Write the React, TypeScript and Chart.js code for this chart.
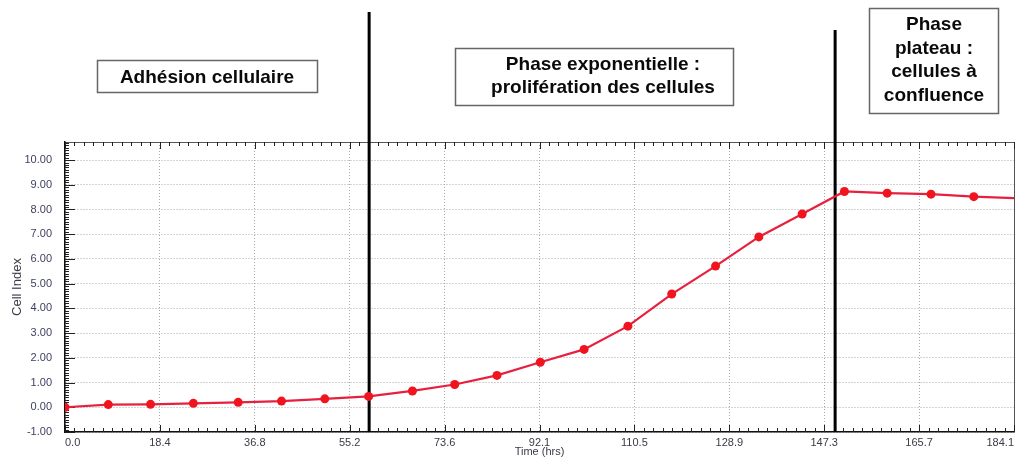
import React, { useEffect, useRef } from "react";
import { Chart, registerables } from "chart.js";

Chart.register(...registerables);

// ---- data ----
const timeHrs = [0, 8.4, 16.6, 24.9, 33.6, 42.0, 50.4, 58.9, 67.4, 75.6, 83.8, 92.2, 100.7, 109.2, 117.7, 126.2, 134.6, 143.0, 151.2, 159.5, 168.0, 176.3, 184.1];
const cellIndex = [0.0, 0.11, 0.12, 0.16, 0.2, 0.25, 0.34, 0.44, 0.66, 0.92, 1.29, 1.82, 2.34, 3.28, 4.58, 5.71, 6.89, 7.82, 8.73, 8.66, 8.62, 8.52, 8.46];
const markerShown = [1, 1, 1, 1, 1, 1, 1, 1, 1, 1, 1, 1, 1, 1, 1, 1, 1, 1, 1, 1, 1, 1, 0];

const xTickValues = [0, 18.41, 36.82, 55.23, 73.64, 92.05, 110.46, 128.87, 147.28, 165.69, 184.1];
const xTickLabels = ["0.0", "18.4", "36.8", "55.2", "73.6", "92.1", "110.5", "128.9", "147.3", "165.7", "184.1"];
const yTickValues = [-1, 0, 1, 2, 3, 4, 5, 6, 7, 8, 9, 10];
const yTickLabels = ["-1.00", "0.00", "1.00", "2.00", "3.00", "4.00", "5.00", "6.00", "7.00", "8.00", "9.00", "10.00"];

const xTitle = "Time (hrs)";
const yTitle = "Cell Index";

const phaseBoundaries = [59.0, 149.4];
const phaseLabels = [
  ["Adhésion cellulaire"],
  ["Phase exponentielle :", "prolifération des cellules"],
  ["Phase", "plateau :", "cellules à", "confluence"],
];

// ---- layout / style (not data) ----
const W = 1029;
const H = 461;
const FONT = "'Liberation Sans', Arial, Helvetica, sans-serif";
const lineTops = [12, 30];
const boxLayout = [
  { left: 97, top: 60, width: 220, height: 32, textX: 207, firstBaseline: 83 },
  { left: 455, top: 48, width: 278, height: 57, textX: 603, firstBaseline: 69.5 },
  { left: 869, top: 8, width: 129, height: 105, textX: 934, firstBaseline: 30 },
];
const boxLineStep = 23.5;

const decorPlugin = {
  id: "decor",
  beforeDatasetsDraw(chart: any) {
    const { ctx, chartArea: a, scales } = chart;
    const xs = scales.x;
    const ys = scales.y;
    ctx.save();
    // top & right frame
    ctx.strokeStyle = "#555";
    ctx.lineWidth = 1;
    ctx.beginPath();
    ctx.moveTo(a.left, Math.round(a.top) + 0.5);
    ctx.lineTo(Math.round(a.right) + 0.5, Math.round(a.top) + 0.5);
    ctx.lineTo(Math.round(a.right) + 0.5, a.bottom);
    ctx.stroke();

    // inner tick marks
    ctx.strokeStyle = "#222";
    ctx.lineWidth = 1;
    ctx.beginPath();
    const xMaj = xTickValues[1] - xTickValues[0];
    for (let i = 0; i <= 100; i++) {
      const h = (i * xMaj) / 10;
      if (h > xs.max + 1e-6) break;
      const px = Math.round(xs.getPixelForValue(h)) + 0.5;
      const len = i % 10 === 0 ? 7 : 4;
      ctx.moveTo(px, a.bottom);
      ctx.lineTo(px, a.bottom - len);
      ctx.moveTo(px, a.top);
      ctx.lineTo(px, a.top + len);
    }
    for (let i = 0; i < 200; i++) {
      const v = yTickValues[0] + i * 0.1;
      if (v > ys.max + 1e-6) break;
      const py = Math.round(ys.getPixelForValue(v)) + 0.5;
      const len = i % 10 === 0 ? 10 : 4;
      ctx.moveTo(a.left, py);
      ctx.lineTo(a.left + len, py);
    }
    ctx.stroke();

    // phase boundaries
    ctx.strokeStyle = "#000";
    ctx.lineWidth = 3;
    phaseBoundaries.forEach((h, i) => {
      const px = xs.getPixelForValue(h);
      ctx.beginPath();
      ctx.moveTo(px, lineTops[i]);
      ctx.lineTo(px, a.bottom);
      ctx.stroke();
    });
    ctx.restore();
  },
  afterDraw(chart: any) {
    const { ctx } = chart;
    ctx.save();
    phaseLabels.forEach((lines, i) => {
      const b = boxLayout[i];
      ctx.fillStyle = "#fff";
      ctx.fillRect(b.left, b.top, b.width, b.height);
      ctx.strokeStyle = "#666";
      ctx.lineWidth = 1.5;
      ctx.strokeRect(b.left + 0.5, b.top + 0.5, b.width, b.height);
      ctx.fillStyle = "#0a0a0a";
      ctx.font = `bold 19px ${FONT}`;
      ctx.textAlign = "center";
      ctx.textBaseline = "alphabetic";
      lines.forEach((t, j) => {
        ctx.fillText(t, b.textX, b.firstBaseline + j * boxLineStep);
      });
    });
    ctx.restore();
  },
};

export default function App() {
  const ref = useRef<HTMLCanvasElement | null>(null);

  useEffect(() => {
    document.body.style.margin = "0";
    const canvas = ref.current;
    if (!canvas) return;
    const chart = new Chart(canvas, {
      type: "line",
      data: {
        datasets: [
          {
            data: timeHrs.map((t, i) => ({ x: t, y: cellIndex[i] })),
            borderColor: "#e8203f",
            borderWidth: 2.2,
            backgroundColor: "#f0141e",
            pointBackgroundColor: "#f0141e",
            pointBorderColor: "#f0141e",
            pointRadius: markerShown.map((m) => (m ? 4.5 : 0)),
            pointBorderWidth: 0,
            tension: 0,
            fill: false,
          },
        ],
      },
      options: {
        animation: false,
        responsive: false,
        devicePixelRatio: 1,
        events: [],
        layout: { padding: { top: 142, right: 15, left: 0, bottom: 0 } },
        plugins: { legend: { display: false }, tooltip: { enabled: false } },
        scales: {
          x: {
            type: "linear",
            min: xTickValues[0],
            max: xTickValues[xTickValues.length - 1],
            afterBuildTicks: (s: any) => {
              s.ticks = xTickValues.map((v) => ({ value: v }));
            },
            afterFit: (s: any) => {
              s.height = 29;
            },
            ticks: {
              autoSkip: false,
              maxRotation: 0,
              align: "inner",
              padding: 4,
              color: "#3a3a48",
              font: { family: FONT, size: 11 },
              callback: (_v: any, i: number) => xTickLabels[i],
            },
            grid: { color: "#a9a9a9", lineWidth: 1, drawTicks: false },
            border: { display: true, color: "#111", width: 1.5, dash: [1, 2] },
            title: {
              display: true,
              text: xTitle,
              color: "#3a3a48",
              font: { family: FONT, size: 11 },
              padding: { top: 0, bottom: 2 },
            },
          },
          y: {
            type: "linear",
            min: -1,
            max: 10.73,
            afterBuildTicks: (s: any) => {
              s.ticks = yTickValues.map((v) => ({ value: v }));
            },
            afterFit: (s: any) => {
              s.width = 65;
            },
            ticks: {
              autoSkip: false,
              padding: 13,
              color: "#404062",
              font: { family: FONT, size: 11 },
              callback: (_v: any, i: number) => yTickLabels[i],
            },
            grid: { color: "#a9a9a9", lineWidth: 1, drawTicks: false },
            border: { display: true, color: "#111", width: 1.5, dash: [1, 2] },
            title: {
              display: true,
              text: yTitle,
              color: "#3a3a48",
              font: { family: FONT, size: 13 },
              padding: { top: 10, bottom: 0 },
            },
          },
        },
      },
      plugins: [decorPlugin],
    } as any);
    return () => chart.destroy();
  }, []);

  return (
    <div style={{ width: W, height: H, background: "#fff" }}>
      <canvas ref={ref} width={W} height={H} style={{ display: "block" }} />
    </div>
  );
}
